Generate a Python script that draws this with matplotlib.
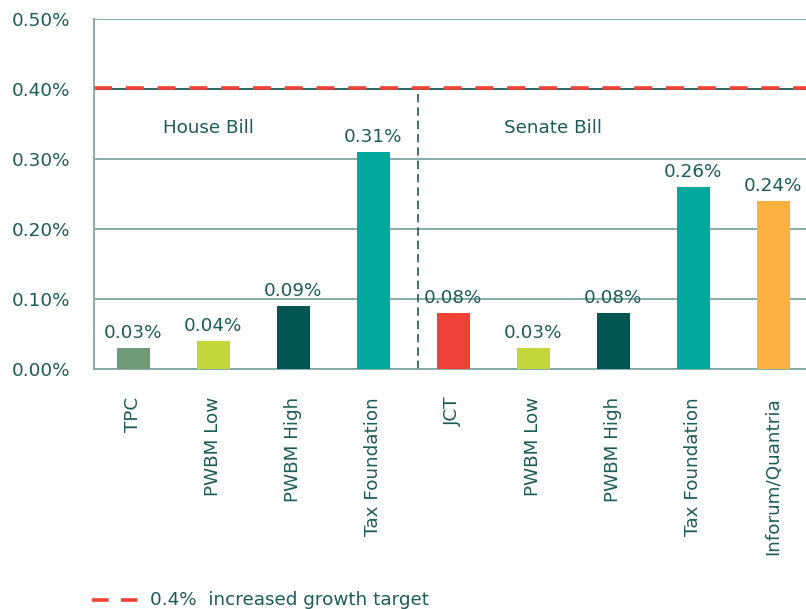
import numpy as np
import matplotlib.pyplot as plt

plt.rcParams['font.family'] = ['DejaVu Sans']

labels = ["TPC", "PWBM Low", "PWBM High", "Tax Foundation",
          "JCT", "PWBM Low", "PWBM High", "Tax Foundation", "Inforum/Quantria"]
values = [0.03, 0.04, 0.09, 0.31, 0.08, 0.03, 0.08, 0.26, 0.24]
colors = ["#6e9a78", "#c3d838", "#005650", "#00a79d",
          "#ef4136", "#c3d838", "#005650", "#00a79d", "#fbb040"]
target = 0.40
txt = "#1d5c57"
gridc = "#7fa8a4"
fs = 13.2

fig = plt.figure(figsize=(8.06, 6.09), dpi=100)
ax = fig.add_axes([94/806, 1-369/609, (806-94)/806, 350/609])

x = np.arange(len(values))
ax.bar(x, values, width=0.41, color=colors, zorder=3)
for xi, v in zip(x, values):
    ax.text(xi, v + 0.008, f"{v:.2f}%", ha='center', va='bottom',
            fontsize=fs, color=txt, zorder=4)

ax.set_xlim(-0.49, 8.41)
ax.set_ylim(0, 0.5)
ax.set_yticks(np.arange(0, 0.51, 0.1))
ax.set_yticklabels([f"{t:.2f}%" for t in np.arange(0, 0.51, 0.1)])
ax.yaxis.grid(True, color=gridc, lw=1.3, zorder=1)
ax.set_xticks(x)
ax.set_xticklabels(labels, rotation=90, va='top')
ax.tick_params(axis='both', length=0, labelsize=fs, labelcolor=txt)
ax.tick_params(axis='x', pad=20)
ax.tick_params(axis='y', pad=17)
for s in ['top', 'right']:
    ax.spines[s].set_visible(False)
ax.spines['left'].set_color(gridc)
ax.spines['bottom'].set_color(gridc)
ax.spines['left'].set_linewidth(1.3)
ax.spines['bottom'].set_linewidth(1.3)

# growth target line
ax.axhline(target, color="#1d5c57", lw=1.2, zorder=2)
ax.axhline(target + 0.002, color="#ef4136", lw=2.6, dashes=(5, 3.8), zorder=2.5)
# House / Senate divider
ax.plot([3.56, 3.56], [0, target], color="#1d5c57", lw=1.2,
        dashes=(5, 3), zorder=2)
ax.text(0.94, 0.344, "House Bill", ha='center', va='center',
        fontsize=fs, color=txt)
ax.text(5.25, 0.344, "Senate Bill", ha='center', va='center',
        fontsize=fs, color=txt)

# legend
fig.add_artist(plt.Line2D([92/806, 138/806], [1-600/609]*2, color="#ef4136",
                          lw=2.6, dashes=(4.6, 3.4), transform=fig.transFigure))
fig.text(150/806, 1-600/609, "0.4%  increased growth target", ha='left',
         va='center', fontsize=fs, color=txt)

fig.savefig("out.png", dpi=100)
